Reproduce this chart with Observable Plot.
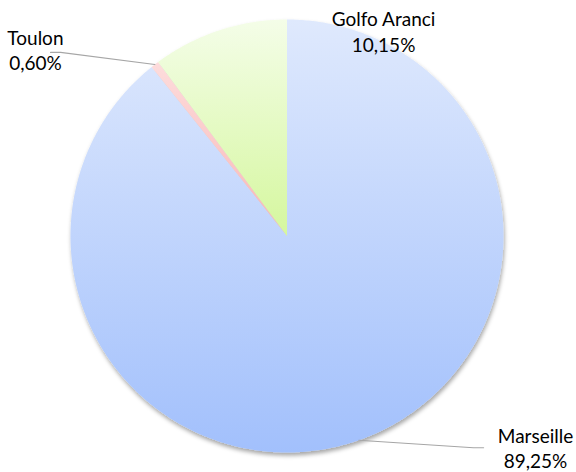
<!DOCTYPE html>
<html><head><meta charset="utf-8">
<script src="https://cdn.jsdelivr.net/npm/d3@7"></script>
<script src="https://cdn.jsdelivr.net/npm/@observablehq/plot@0.6"></script>
<style>
body{margin:0;background:#fff;}
#chart{width:576px;height:472px;}
</style>
</head><body><div id="chart"></div>
<script>
// Data
const categories = ["Marseille", "Toulon", "Golfo Aranci"];
const shares = [89.25, 0.60, 10.15];
const shareLabels = ["89,25%", "0,60%", "10,15%"];

// Styles / layout
const gradients = [
  ["gMars", "#dfe9fd", "#a2c0fc"],
  ["gToul", "#fddcdc", "#f8b6b6"],
  ["gGolf", "#f4fde8", "#d5f79e"]
];
// label placement (unit-circle coordinates), leader elbows
const labelLayout = {
  "Marseille":    {x: 1.148, y: -0.977, elbow: [[0.861, -0.978], [0.908, -0.978]]},
  "Toulon":       {x: -1.162, y: 0.861, elbow: [[-1.046, 0.848], [-1.092, 0.848]]},
  "Golfo Aranci": {x: 0.446, y: 0.947, elbow: null}
};

const pie = d3.pie().sort(null).startAngle(0).endAngle(2 * Math.PI)(shares);

const slices = [];
pie.forEach((p, i) => {
  const pts = [{slice: categories[i], x: 0, y: 0}];
  const n = Math.max(2, Math.ceil((p.endAngle - p.startAngle) / 0.01));
  for (let k = 0; k <= n; k++) {
    const a = p.startAngle + (p.endAngle - p.startAngle) * k / n;
    pts.push({slice: categories[i], x: Math.sin(a), y: Math.cos(a)});
  }
  pts.push({slice: categories[i], x: 0, y: 0});
  slices.push(pts);
});

const texts = categories.map((c, i) => ({
  text: c + "\n" + shareLabels[i],
  x: labelLayout[c].x, y: labelLayout[c].y
}));

const leaders = [];
categories.forEach((c, i) => {
  const L = labelLayout[c];
  if (!L.elbow) return;
  const mid = (pie[i].startAngle + pie[i].endAngle) / 2;
  leaders.push({k: c, x: Math.sin(mid), y: Math.cos(mid)});
  L.elbow.forEach(([x, y]) => leaders.push({k: c, x, y}));
});

const plot = Plot.plot({
  width: 576,
  height: 472,
  margin: 0,
  x: {domain: [-1, 1], range: [70, 503], axis: null},
  y: {domain: [-1, 1], range: [452, 19], axis: null},
  style: {fontFamily: "Lato, sans-serif", background: "#fff"},
  marks: [
    ...slices.map((pts, i) => Plot.line(pts, {
      x: "x", y: "y", fill: `url(#${gradients[i][0]})`, stroke: "none", curve: "linear-closed"
    })),
    Plot.line(leaders, {x: "x", y: "y", z: "k", stroke: "#a6a6a6", strokeWidth: 1.2}),
    Plot.text(texts, {
      x: "x", y: "y", text: "text", fill: "#000", fontSize: 19, lineHeight: 1.34,
      textAnchor: "middle"
    })
  ]
});

const svg = d3.select(plot);
const defs = svg.insert("defs", ":first-child");
gradients.forEach(([id, c0, c1]) => {
  const g = defs.append("linearGradient").attr("id", id)
    .attr("x1", 0).attr("y1", 0).attr("x2", 0).attr("y2", 1);
  g.append("stop").attr("offset", "0%").attr("stop-color", c0);
  g.append("stop").attr("offset", "100%").attr("stop-color", c1);
});
const f = defs.append("filter").attr("id", "shadow")
  .attr("x", "-10%").attr("y", "-10%").attr("width", "120%").attr("height", "120%");
f.append("feDropShadow").attr("dx", 1).attr("dy", 3).attr("stdDeviation", 2)
  .attr("flood-color", "#000").attr("flood-opacity", 0.35);

const groups = svg.selectAll("g[aria-label='line']").nodes();
const pieGroup = svg.append("g").attr("filter", "url(#shadow)");
groups.slice(0, slices.length).forEach(n => pieGroup.node().appendChild(n));
pieGroup.lower();
defs.lower();

document.getElementById("chart").appendChild(plot);
</script>
</body></html>
